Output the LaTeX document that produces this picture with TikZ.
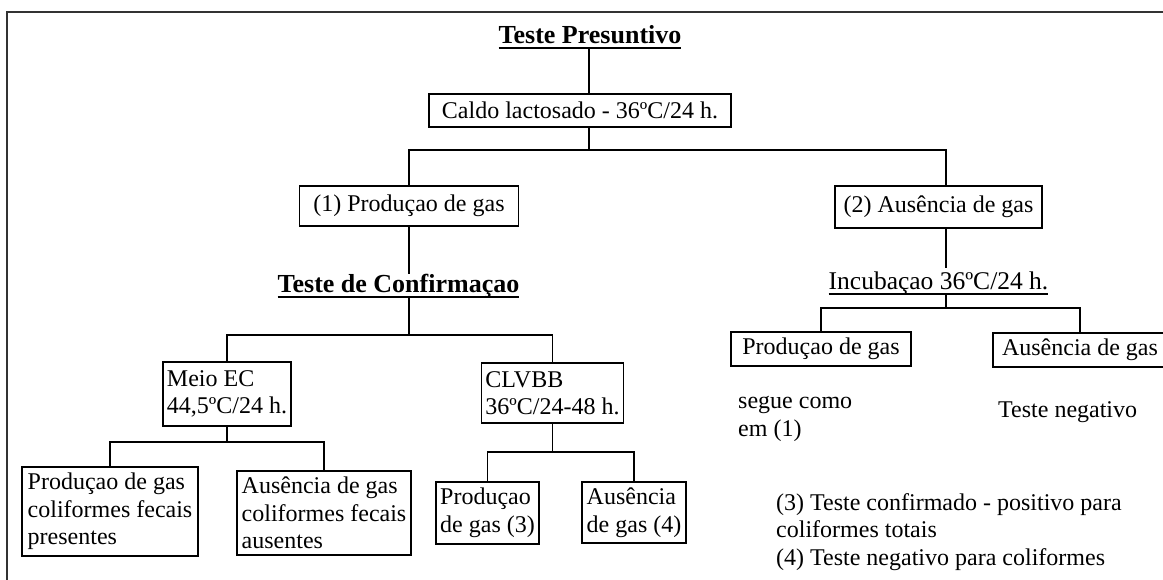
\documentclass[tikz,border=0pt]{standalone}
\usepackage{fontspec}
\setmainfont{Liberation Serif}

\newcommand{\hdline}[1]{\leavevmode\vtop{\hbox{\raisebox{0pt}[\height][0pt]{#1}}\kern3.5pt\hrule height 1.6pt}}

\begin{document}
\begin{tikzpicture}[
    x=1pt, y=-1pt,
    txt/.style={inner sep=0pt, align=left, font=\fontsize{24pt}{27.5pt}\selectfont},
    head/.style={txt, anchor=base, font=\fontsize{26pt}{28pt}\selectfont\bfseries},
    box/.style={draw, line width=1.8pt, inner xsep=4pt, inner ysep=2pt, font=\fontsize{24pt}{27.5pt}\selectfont},
    tallbox/.style={box, align=left},
    link/.style={line width=1.8pt},
    frame/.style={line width=2.2pt, black!80}
]
    \useasboundingbox (0,0) rectangle (1163,580);
    \draw[frame] (1163,12) -| (7,580);

    % Presumptive stage
    \node[head] (presun) at (590,44) {\hdline{Teste Presuntivo}};
    \node[box, minimum width=302pt, minimum height=33pt] (caldo) at (580,110.5) {Caldo lactosado - 36ºC/24 h.};
    \node[box, minimum width=219pt, minimum height=40pt] (gas1) at (409,206) {(1) Produçao de gas};
    \node[box, minimum width=207pt, minimum height=42pt] (semgas2) at (938.5,207) {(2) Ausência de gas};

    % Confirmation stage
    \node[head] (confirm) at (398.5,293) {\hdline{Teste de Confirmaçao}};
    \node[tallbox, minimum width=122pt, minimum height=64pt] (meioec) at (227,394) {Meio EC\\44,5ºC/24 h.};
    \node[tallbox, minimum width=139pt, minimum height=60pt] (clvbb) at (552.5,393) {CLVBB\\36ºC/24-48 h.};
    \node[tallbox, minimum width=176pt, minimum height=89pt] (fecpos) at (110,511.5) {Produçao de gas\\coliformes fecais\\presentes};
    \node[tallbox, minimum width=174pt, minimum height=84pt] (fecneg) at (324,513) {Ausência de gas\\coliformes fecais\\ausentes};
    \node[tallbox, minimum width=101pt, minimum height=62pt] (totpos) at (487.5,513) {Produçao\\de gas (3)};
    \node[tallbox, minimum width=104pt, minimum height=61pt] (totneg) at (634,512.5) {Ausência\\de gas (4)};

    % Incubation of the negative tubes
    \node[txt, anchor=base, font=\fontsize{25.5pt}{28pt}\selectfont] (incub) at (938.5,290) {\hdline{Incubaçao 36ºC/24 h.}};
    \node[box, minimum width=180pt, minimum height=34pt] (incgas) at (821,349) {Produçao de gas};
    \node[box, minimum width=174pt, minimum height=34pt] (incsem) at (1080,350) {Ausência de gas};
    \node[txt, anchor=base west] (segue) at (738,436) {segue como\\em (1)};
    \node[txt, anchor=base west] (negativo) at (998,417) {Teste negativo};

    % Notes
    \node[txt, anchor=base west] (notas) at (776,565) {(3) Teste confirmado - positivo para\\coliformes totais\\(4) Teste negativo para coliformes};

    % Connections
    \coordinate (fork1) at (589,150);
    \draw[link] (presun.south -| fork1) -- (fork1 |- caldo.north);
    \draw[link] (fork1 |- caldo.south) -- (fork1);
    \draw[link] (gas1.north) |- (fork1) -| ([xshift=7.5pt]semgas2.north);

    \draw[link] (gas1.south) -- (gas1.south |- confirm.north);
    \coordinate (fork2) at (409,335);
    \draw[link] (confirm.south -| fork2) -- (fork2);
    \draw[link] (meioec.north) |- (fork2) -| (clvbb.north);

    \draw[link] (meioec.south) -- ++(0,15) coordinate (fork3);
    \draw[link] (fecpos.north) |- (fork3) -| (fecneg.north);
    \draw[link] (clvbb.south) -- ++(0,28) coordinate (fork4);
    \draw[link] (totpos.north) |- (fork4) -| (totneg.north);

    \coordinate (spine) at ([xshift=7.5pt]semgas2.south);
    \draw[link, shorten >=4pt] (spine) -- (spine |- incub.north);
    \draw[link] (spine |- incub.south) -- ++(0,13) coordinate (fork5);
    \draw[link] (incgas.north) |- (fork5) -| (incsem.north);
\end{tikzpicture}
\end{document}
